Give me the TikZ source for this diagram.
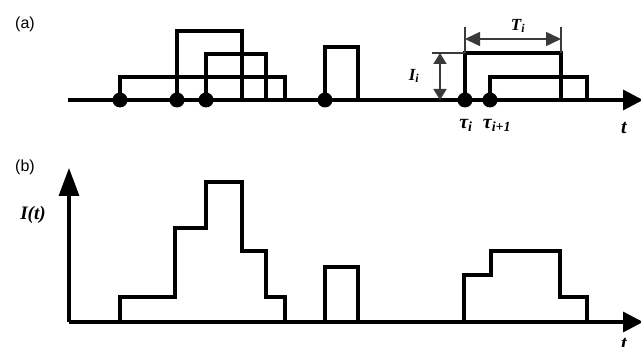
\documentclass[tikz,border=0pt]{standalone}
\usepackage{fontspec}
\setmainfont{Liberation Serif}
\newfontfamily\labfont{Liberation Sans}
\usetikzlibrary{arrows.meta}
\definecolor{dimgray}{HTML}{3A3A3A}
\begin{document}
\begin{tikzpicture}[x=1pt,y=-1pt,
  thickline/.style={line width=3.3pt,line join=miter},
  thinline/.style={line width=1.3pt,draw=dimgray},
  dot/.style={circle,fill=black,inner sep=0pt,minimum size=15pt},
  axisarrow/.style={line width=3.3pt,-{Triangle[length=20pt,width=20pt]}},
  yaxisarrow/.style={line width=3.3pt,-{Triangle[length=28pt,width=20pt]}},
  dimv/.style={line width=1.6pt,draw=dimgray,{Triangle[length=11pt,width=13pt]}-{Triangle[length=11pt,width=13pt]}},
  dimh/.style={line width=1.6pt,draw=dimgray,{Triangle[length=15pt,width=14pt]}-{Triangle[length=15pt,width=14pt]}},
  mathlab/.style={font=\bfseries\itshape\fontsize{17}{17}\selectfont,inner sep=0pt},
  taulab/.style={font=\bfseries\itshape\fontsize{20}{20}\selectfont,inner sep=0pt},
  panellab/.style={font=\labfont\fontsize{16}{16}\selectfont,inner sep=0pt}]
\useasboundingbox (0,0) rectangle (641,347);
\fill[white] (0,0) rectangle (641,347);

% ---------- panel (a) ----------
\node[panellab] (la) at (25,24) {(a)};
\coordinate (a0) at (68,100);
\coordinate (aend) at (643,100);
\draw[axisarrow] (a0) -- (aend);

\node[dot] (d1) at (120,100) {};
\node[dot] (d2) at (177,100) {};
\node[dot] (d3) at (206,100) {};
\node[dot] (d4) at (325,100) {};
\node[dot] (d5) at (465,100) {};
\node[dot] (d6) at (490,100) {};

\coordinate (e1) at (285,100);
\coordinate (e2) at (242,100);
\coordinate (e3) at (266,100);
\coordinate (e4) at (358,100);
\coordinate (e5) at (561,100);
\coordinate (e6) at (587,100);

\draw[thickline] (d1.center) -- (120,77) -| (e1);
\draw[thickline] (d2.center) -- (177,31) -| (e2);
\draw[thickline] (d3.center) -- (206,54) -| (e3);
\draw[thickline] (d4.center) -- (325,47) -| (e4);
\draw[thickline] (d5.center) -- (465,53) -| (e5);
\draw[thickline] (d6.center) -- (490,77) -| (e6);

% dimension I_i
\coordinate (ih) at (432,53);
\coordinate (it) at (440,53);
\coordinate (ib) at (440,100);
\draw[thinline] (ih) -- (465,53);
\draw[dimv] (it) -- (ib);
\node[mathlab] (Ii) at (414,76) {I\textsubscript{i}};

% dimension T_i
\coordinate (t1) at (465,27);
\coordinate (t2) at (561,27);
\draw[thinline] (t1) -- (465,53);
\draw[thinline] (t2) -- (561,53);
\coordinate (ta) at (465,39);
\coordinate (tb) at (561,39);
\draw[dimh] (ta) -- (tb);
\node[mathlab] (Ti) at (518,26) {T\textsubscript{i}};

\node[taulab] (tau1) at (466,125) {τ\textsubscript{i}};
\node[taulab] (tau2) at (497,125) {τ\textsubscript{i+1}};
\node[taulab] (ta1) at (624,128) {t};

% ---------- panel (b) ----------
\node[panellab] (lb) at (25,167) {(b)};
\coordinate (O) at (69,322);
\coordinate (ytip) at (69,168);
\coordinate (xtip) at (643,322);
\draw[yaxisarrow] (O) -- (ytip);
\draw[axisarrow] (O) -- (xtip);
\node[mathlab,font=\bfseries\itshape\fontsize{19}{19}\selectfont] (It) at (33,215) {I(t)};

\coordinate (s1) at (120,322);
\coordinate (s2) at (285,322);
\draw[thickline] (s1) |- (175,297) |- (206,228) |- (242,182) |- (266,251) |- (285,297) -- (s2);

\coordinate (p1) at (325,322);
\coordinate (p2) at (358,322);
\draw[thickline] (p1) |- (358,267) -- (p2);

\coordinate (q1) at (464,322);
\coordinate (q2) at (587,322);
\draw[thickline] (q1) |- (491,275) |- (560,251) |- (587,297) -- (q2);

\node[taulab] (tb1) at (624,344) {t};
\end{tikzpicture}
\end{document}
